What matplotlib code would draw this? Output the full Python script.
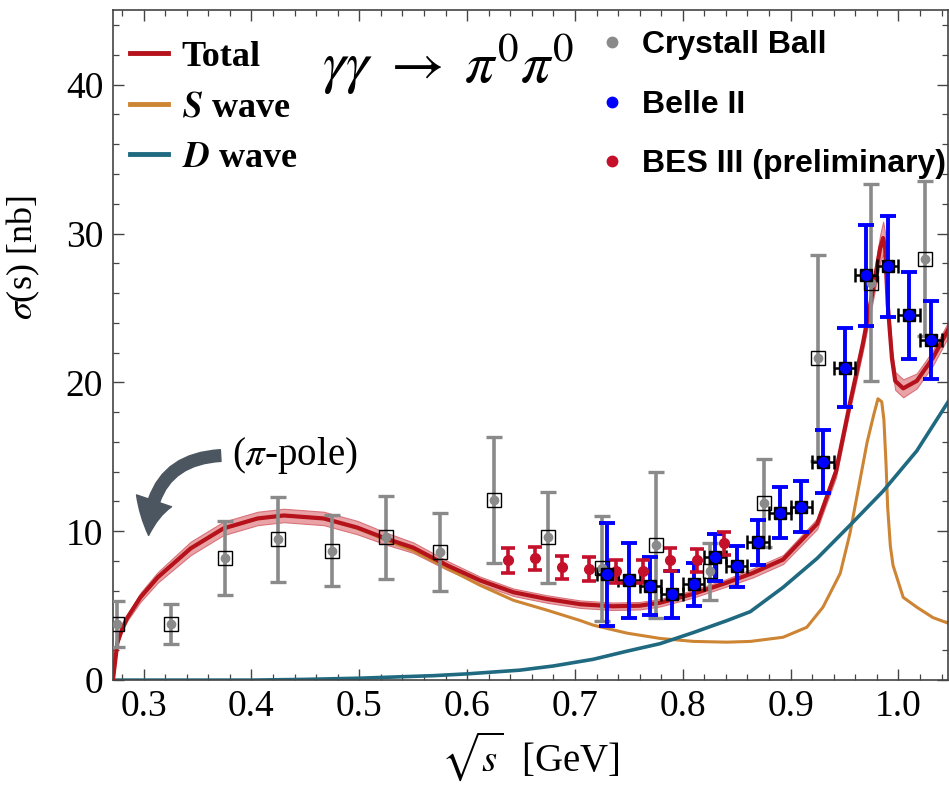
import matplotlib.pyplot as plt
from matplotlib.lines import Line2D
from matplotlib.ticker import MultipleLocator, FormatStrFormatter
import numpy as np

plt.rcParams['font.family'] = ['Liberation Serif', 'DejaVu Serif']
plt.rcParams['mathtext.fontset'] = 'stix'

# --- theory curves ---
total_x = [0.2715, 0.2756, 0.2803, 0.2849, 0.297, 0.313, 0.3436, 0.374, 0.4057, 0.430,
           0.467, 0.498, 0.525, 0.550, 0.5817, 0.612, 0.643, 0.674, 0.705, 0.735,
           0.760, 0.779, 0.81, 0.841, 0.865, 0.893, 0.9246, 0.942, 0.955, 0.967,
           0.9766, 0.983, 0.9858, 0.9877, 0.990, 0.994, 0.997, 1.0044, 1.017, 1.032, 1.047]
total_y = [0.0, 2.5, 3.5, 4.2, 5.56, 6.9, 8.85, 10.19, 10.86, 11.06,
           10.86, 10.25, 9.5, 8.9, 7.7, 6.7, 5.9, 5.45, 5.1, 4.96,
           5.0, 5.2, 5.8, 6.55, 7.2, 8.1, 10.5, 14.0, 18.6, 22.6,
           26.3, 29.0, 29.7, 29.0, 25.3, 21.6, 20.1, 19.6, 20.1, 21.65, 23.66]
total_band = [0.05, 0.1, 0.15, 0.2, 0.3, 0.35, 0.45, 0.45, 0.45, 0.45,
              0.45, 0.45, 0.4, 0.35, 0.3, 0.25, 0.25, 0.25, 0.25, 0.25,
              0.25, 0.25, 0.25, 0.25, 0.3, 0.3, 0.35, 0.4, 0.45, 0.5,
              0.7, 0.9, 1.1, 1.0, 0.8, 0.6, 0.6, 0.6, 0.5, 0.5, 0.5]

s_x = [0.2715, 0.2756, 0.2803, 0.2849, 0.297, 0.313, 0.3436, 0.374, 0.4057, 0.430,
       0.467, 0.498, 0.525, 0.550, 0.5817, 0.612, 0.643, 0.674, 0.705, 0.717,
       0.7486, 0.779, 0.81, 0.841, 0.8626, 0.893, 0.915, 0.930, 0.946, 0.955,
       0.9645, 0.971, 0.977, 0.981, 0.9845, 0.9865, 0.9885, 0.990, 0.9925, 0.995,
       1.0044, 1.017, 1.032, 1.047]
s_y = [0.0, 2.5, 3.5, 4.2, 5.56, 6.9, 8.85, 10.19, 10.86, 11.06,
       10.85, 10.2, 9.4, 8.7, 7.5, 6.37, 5.36, 4.7, 4.0, 3.69,
       3.15, 2.8, 2.6, 2.55, 2.6, 2.88, 3.55, 4.9, 7.17, 9.85,
       13.5, 16.0, 17.8, 18.9, 18.7, 17.5, 14.5, 11.6, 9.0, 7.7,
       5.56, 4.9, 4.2, 3.8]

d_x = [0.2715, 0.40, 0.45, 0.501, 0.569, 0.60, 0.649, 0.68, 0.717, 0.7486,
       0.779, 0.81, 0.841, 0.8626, 0.893, 0.9246, 0.955, 0.9858, 1.017, 1.047]
d_y = [0.0, 0.0, 0.05, 0.13, 0.3, 0.42, 0.67, 0.95, 1.4, 1.95,
       2.45, 3.2, 4.0, 4.6, 6.23, 8.18, 10.4, 12.7, 15.4, 18.8]

# --- data ---
cb_x = [0.275, 0.325, 0.375, 0.425, 0.475, 0.525, 0.575, 0.625, 0.675, 0.725,
        0.775, 0.825, 0.875, 0.925, 0.975, 1.025]
cb_y = [3.75, 3.75, 8.2, 9.45, 8.7, 9.6, 8.6, 12.1, 9.6, 7.5,
        9.05, 7.3, 11.9, 21.65, 26.7, 28.3]
cb_err = [1.55, 1.35, 2.5, 2.85, 2.4, 2.8, 2.6, 4.2, 3.05, 3.5,
          4.9, 1.9, 2.95, 6.9, 6.6, 5.2]

belle_x = [0.73, 0.75, 0.77, 0.79, 0.81, 0.83, 0.85, 0.87, 0.89, 0.91,
           0.93, 0.95, 0.97, 0.99, 1.01, 1.03]
belle_y = [7.1, 6.7, 6.3, 5.76, 6.43, 8.24, 7.64, 9.25, 11.26, 11.66,
           14.68, 20.98, 27.2, 27.8, 24.5, 22.85]
belle_err = [3.45, 2.5, 1.95, 1.6, 1.45, 1.6, 1.4, 1.5, 1.68, 1.7,
             2.1, 2.65, 3.4, 3.4, 2.9, 2.65]
belle_bin = 0.01

bes_x = [0.638, 0.663, 0.688, 0.713, 0.738, 0.763, 0.788, 0.813, 0.838]
bes_y = [8.04, 8.18, 7.57, 7.44, 7.3, 7.3, 8.1, 8.04, 9.18]
bes_err = [0.85, 0.75, 0.75, 0.8, 0.8, 0.8, 0.75, 0.75, 0.8]

c_total = '#b5121b'
c_band = '#e9a3a6'
c_s = '#cd8433'
c_d = '#1f6a80'
c_cb = '#8a8a8a'
c_belle = '#0000ff'
c_bes = '#c4102b'

fig = plt.figure(figsize=(9.49, 7.89), dpi=100)
ax = fig.add_axes([0.119, 0.138, 0.88, 0.849])

tx = np.array(total_x)
ty = np.array(total_y)
tb = np.array(total_band)
ax.fill_between(tx, ty - tb, ty + tb, color=c_band, lw=0.8, edgecolor='#d9727a', zorder=2)
ax.plot(tx, ty, color=c_total, lw=3, zorder=3)
ax.plot(s_x, s_y, color=c_s, lw=2.2, zorder=2.5)
ax.plot(d_x, d_y, color=c_d, lw=2.6, zorder=2.5)

# Crystal Ball
cb = ax.errorbar(cb_x, cb_y, yerr=cb_err, fmt='none', ecolor=c_cb, elinewidth=2.6,
                 capsize=6, capthick=2.4, zorder=4)
for cap in cb[1]:
    cap.set_color('#555555')
ax.plot(cb_x, cb_y, 's', ms=9.5, mfc='none', mec='black', mew=1.0, zorder=5)
ax.plot(cb_x, cb_y, 'o', ms=6, color=c_cb, zorder=5)

# Belle II
ax.errorbar(belle_x, belle_y, xerr=belle_bin, fmt='none', ecolor='black', elinewidth=1.8,
            capsize=5, capthick=1.8, zorder=4)
ax.errorbar(belle_x, belle_y, yerr=belle_err, fmt='none', ecolor=c_belle, elinewidth=2.8,
            capsize=6, capthick=2.8, zorder=4)
ax.plot(belle_x, belle_y, 's', ms=9, color='black', zorder=5)
ax.plot(belle_x, belle_y, 'o', ms=7, color=c_belle, zorder=6)

# BES III
ax.errorbar(bes_x, bes_y, yerr=bes_err, fmt='o', color=c_bes, ms=7, elinewidth=2.6,
            capsize=5, capthick=2.6, zorder=4)

ax.set_xlim(0.2715, 1.046)
ax.set_ylim(0, 45)
ax.set_xticks(np.arange(0.3, 1.01, 0.1))
ax.xaxis.set_major_formatter(FormatStrFormatter('%.1f'))
ax.xaxis.set_minor_locator(MultipleLocator(0.02))
ax.set_yticks([0, 10, 20, 30, 40])
ax.yaxis.set_minor_locator(MultipleLocator(2))
ax.tick_params(which='both', direction='in', top=True, right=True, color='#444444',
               labelsize=27, pad=7)
ax.tick_params(which='major', length=8, width=1.0)
ax.tick_params(which='minor', length=4.5, width=0.9)
for sp in ax.spines.values():
    sp.set_color('#444444')
    sp.set_linewidth(1.2)

ax.set_xlabel(r'$\sqrt{s}$  [GeV]', fontsize=28)
ax.set_ylabel(r'$\sigma$(s) [nb]', fontsize=26)
ax.yaxis.set_label_coords(-0.085, 0.63)

ax.text(0.401, 0.919, r'$\gamma\gamma\;\rightarrow\;\pi^0\pi^0$', transform=ax.transAxes,
        ha='center', va='center', fontsize=42)

ax.annotate(r'($\pi$-pole)', xy=(0.3046, 9.72), xytext=(0.44, 15.1),
            ha='center', va='center', fontsize=28,
            arrowprops=dict(arrowstyle='simple,head_length=0.9,head_width=0.95,tail_width=0.3',
                            connectionstyle='arc3,rad=0.5', color='#4b5661',
                            relpos=(0, 0.5), shrinkA=6, shrinkB=0))

leg1 = ax.legend(handles=[Line2D([], [], color=c_total, lw=3.5),
                          Line2D([], [], color=c_s, lw=3.5),
                          Line2D([], [], color=c_d, lw=3.5)],
                 labels=['Total', r'$\mathbfit{S}$ wave', r'$\mathbfit{D}$ wave'],
                 loc='upper left', bbox_to_anchor=(0.02, 0.955), frameon=False,
                 prop={'family': 'Liberation Serif', 'weight': 'bold', 'size': 26},
                 handlelength=1.05, handletextpad=0.39, labelspacing=0.48,
                 borderaxespad=0, borderpad=0)
ax.add_artist(leg1)

ax.legend(handles=[Line2D([], [], ls='none', marker='o', ms=7.5, color=c_cb),
                   Line2D([], [], ls='none', marker='o', ms=7.5, color=c_belle),
                   Line2D([], [], ls='none', marker='o', ms=7.5, color=c_bes)],
          labels=['Crystall Ball', 'Belle II', 'BES III (preliminary)'],
          loc='upper left', bbox_to_anchor=(0.582, 0.97), frameon=False,
          prop={'family': 'Liberation Sans', 'weight': 'bold', 'size': 23},
          handlelength=0.8, handletextpad=0.56, labelspacing=0.92,
          borderaxespad=0, borderpad=0)

fig.savefig('out.png', dpi=100)
